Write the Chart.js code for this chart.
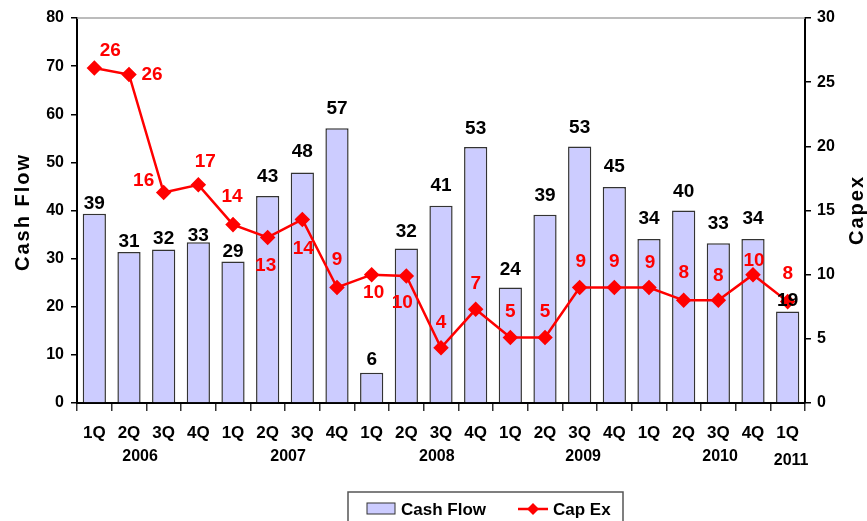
<!DOCTYPE html>
<html>
<head>
<meta charset="utf-8">
<script src="https://cdn.jsdelivr.net/npm/chart.js@4.4.1/dist/chart.umd.min.js"></script>
<style>
  html, body { margin: 0; padding: 0; background: #fff; }
  #wrap { width: 867px; height: 521px; }
</style>
</head>
<body>
<div id="wrap"><canvas id="chart" width="867" height="521"></canvas></div>
<script>
// quarters 2006 1Q .. 2011 1Q
const quarters = ['1Q','2Q','3Q','4Q','1Q','2Q','3Q','4Q','1Q','2Q','3Q','4Q',
                  '1Q','2Q','3Q','4Q','1Q','2Q','3Q','4Q','1Q'];
const years = ['2006','2007','2008','2009','2010','2011'];
const cashFlow = [39.3,31.4,31.9,33.4,29.4,43.0,47.9,57.1,6.3,32.1,41.0,53.2,
                  24.0,39.1,53.3,44.9,34.1,40.0,33.2,34.1,19.0];
const capEx = [26.1,25.6,16.4,17.0,13.9,12.9,14.3,9.0,10.0,9.9,4.3,7.3,
               5.1,5.1,9.0,9.0,9.0,8.0,8.0,10.0,7.9];
const cashTicks = [0,10,20,30,40,50,60,70,80];
const capexTicks = [0,5,10,15,20,25,30];

// label placement (category index for years, pixel nudges for value labels)
const yearAt = [1.32, 5.59, 9.88, 14.1, 18.05, 20.1];
const barLabelGap = [4,4,4,0,4,13,14,13,7,11,14,12,12,13,12,14,14,13,13,14,5];
const capLabelDx = [16,23,-20,7,-1,-2,1,0,2,-4,0,0,0,0,1,0,1,0,0,1,0];
const capLabelDy = [-17,0,-12,-23,-28,28,29,-28,18,27,-25,-26,-26,-26,-26,-26,-25,-28,-25,-14,-28];

const FONT = '"Liberation Sans", Arial, sans-serif';

const labelsPlugin = {
  id: 'labels',
  afterDatasetsDraw(chart) {
    const ctx = chart.ctx;
    const bars = chart.getDatasetMeta(1).data;
    const pts = chart.getDatasetMeta(0).data;
    ctx.save();
    ctx.font = 'bold 19px ' + FONT;
    ctx.textAlign = 'center';
    ctx.textBaseline = 'alphabetic';
    ctx.fillStyle = '#000';
    bars.forEach((b, i) => {
      ctx.fillText(Math.round(cashFlow[i]), b.x, b.y - barLabelGap[i] - 1);
    });
    ctx.fillStyle = '#ff0000';
    ctx.textBaseline = 'middle';
    pts.forEach((p, i) => {
      ctx.fillText(Math.round(capEx[i]), p.x + capLabelDx[i], p.y + capLabelDy[i]);
    });
    ctx.restore();
  },
  afterDraw(chart) {
    const ctx = chart.ctx;
    const a = chart.chartArea;
    const x = chart.scales.x;
    ctx.save();
    // top frame line
    ctx.strokeStyle = '#a6a6a6';
    ctx.lineWidth = 1.5;
    ctx.beginPath();
    ctx.moveTo(a.left, a.top);
    ctx.lineTo(a.right, a.top);
    ctx.stroke();

    // year captions
    ctx.fillStyle = '#000';
    ctx.font = 'bold 16px ' + FONT;
    ctx.textAlign = 'center';
    ctx.textBaseline = 'middle';
    years.forEach((y, i) => {
      const yy = i === years.length - 1 ? 461 : 457;
      ctx.fillText(y, x.getPixelForValue(yearAt[i]), yy);
    });

    // axis titles
    ctx.font = 'bold 20px ' + FONT;
    ctx.letterSpacing = '2px';
    ctx.save();
    ctx.translate(23, 212);
    ctx.rotate(-Math.PI / 2);
    ctx.fillText('Cash Flow', 0, 0);
    ctx.restore();
    ctx.save();
    ctx.translate(857, 210);
    ctx.rotate(-Math.PI / 2);
    ctx.fillText('Capex', 0, 0);
    ctx.restore();
    ctx.letterSpacing = '0px';

    // legend
    const lx = 348, ly = 492;
    ctx.fillStyle = '#fff';
    ctx.fillRect(lx, ly, 275, 40);
    ctx.strokeStyle = '#555';
    ctx.lineWidth = 1.5;
    ctx.strokeRect(lx, ly, 275, 40);
    const bs = chart.data.datasets[1];
    ctx.fillStyle = bs.backgroundColor;
    ctx.fillRect(367, 503, 28, 11);
    ctx.strokeStyle = bs.borderColor;
    ctx.lineWidth = 1;
    ctx.strokeRect(367, 503, 28, 11);
    ctx.fillStyle = '#000';
    ctx.font = 'bold 17px ' + FONT;
    ctx.textAlign = 'left';
    ctx.fillText('Cash Flow', 401, 510);
    const ls = chart.data.datasets[0];
    ctx.strokeStyle = ls.borderColor;
    ctx.lineWidth = 2.5;
    ctx.beginPath();
    ctx.moveTo(518, 509);
    ctx.lineTo(548, 509);
    ctx.stroke();
    ctx.fillStyle = ls.borderColor;
    ctx.beginPath();
    ctx.moveTo(533, 503); ctx.lineTo(539, 509); ctx.lineTo(533, 515); ctx.lineTo(527, 509);
    ctx.closePath();
    ctx.fill();
    ctx.fillStyle = '#000';
    ctx.fillText('Cap Ex', 553, 510);
    ctx.restore();
  }
};

new Chart(document.getElementById('chart'), {
  data: {
    labels: quarters,
    datasets: [
      {
        type: 'line',
        label: 'Cap Ex',
        data: capEx,
        yAxisID: 'y1',
        borderColor: '#ff0000',
        backgroundColor: '#ff0000',
        borderWidth: 2.5,
        pointStyle: 'rectRot',
        pointRadius: 6,
        pointBackgroundColor: '#ff0000',
        pointBorderColor: '#ff0000',
        tension: 0,
        order: 0
      },
      {
        type: 'bar',
        label: 'Cash Flow',
        data: cashFlow,
        yAxisID: 'y',
        backgroundColor: '#ccccff',
        borderColor: '#333333',
        borderWidth: 1.5,
        barPercentage: 0.67,
        categoryPercentage: 1,
        order: 1
      }
    ]
  },
  options: {
    responsive: false,
    animation: false,
    devicePixelRatio: 1,
    layout: { padding: { top: 18, left: 0, right: 0, bottom: 0 } },
    plugins: { legend: { display: false }, tooltip: { enabled: false } },
    scales: {
      x: {
        afterFit: s => { s.height = 118; },
        grid: { offset: true, drawOnChartArea: false, tickLength: 8, color: '#333', lineWidth: 1.5 },
        border: { color: '#000', width: 2 },
        ticks: { color: '#000', font: { family: FONT, size: 17, weight: 'bold' }, padding: 12, maxRotation: 0, autoSkip: false }
      },
      y: {
        position: 'left',
        min: 0, max: 80,
        afterFit: s => { s.width = 77; },
        afterBuildTicks: s => { s.ticks = cashTicks.map(v => ({ value: v })); },
        grid: { drawOnChartArea: false, tickLength: 6, color: '#000', lineWidth: 1.5 },
        border: { color: '#000', width: 2 },
        ticks: { color: '#000', font: { family: FONT, size: 16, weight: 'bold' }, padding: 7 }
      },
      y1: {
        position: 'right',
        min: 0, max: 30,
        afterFit: s => { s.width = 62; },
        afterBuildTicks: s => { s.ticks = capexTicks.map(v => ({ value: v })); },
        grid: { drawOnChartArea: false, tickLength: 6, color: '#000', lineWidth: 1.5 },
        border: { color: '#000', width: 2 },
        ticks: { color: '#000', font: { family: FONT, size: 16, weight: 'bold' }, padding: 6 }
      }
    }
  },
  plugins: [labelsPlugin]
});
</script>
</body>
</html>
